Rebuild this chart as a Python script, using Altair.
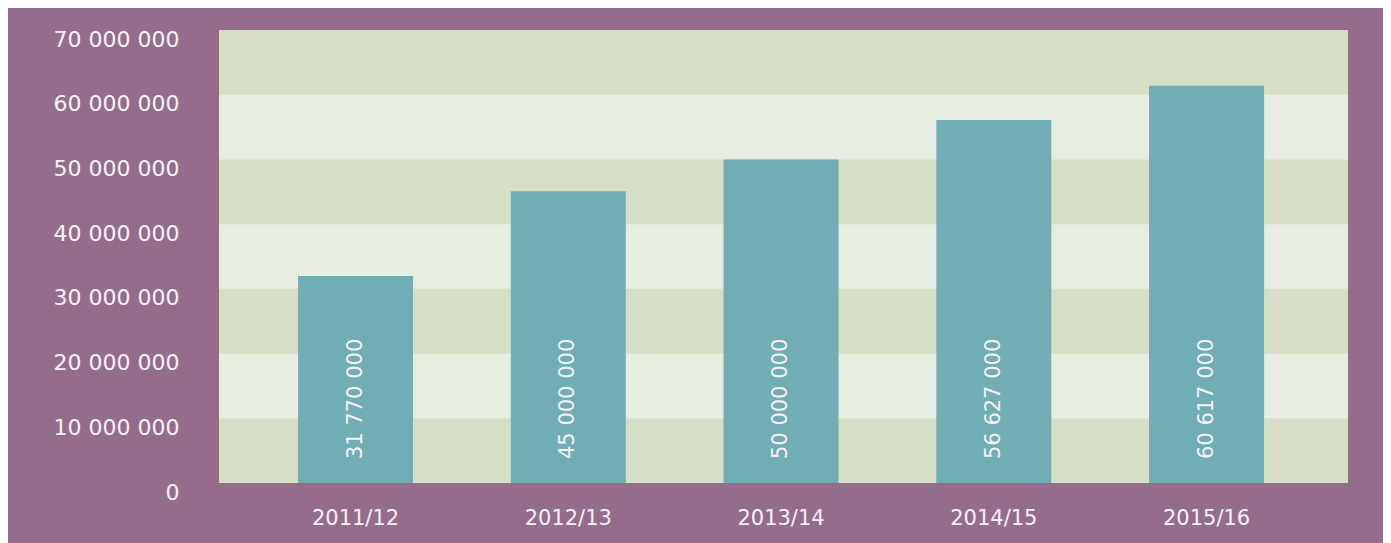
import altair as alt
import pandas as pd

years = ["2011/12", "2012/13", "2013/14", "2014/15", "2015/16"]
# bar heights as drawn in the picture
heights = [32000000, 45100000, 50000000, 56100000, 61400000]
# figures printed inside the bars
labels = ["31 770 000", "45 000 000", "50 000 000", "56 627 000", "60 617 000"]
ticks = [0, 10000000, 20000000, 30000000, 40000000, 50000000, 60000000, 70000000]

bars = pd.DataFrame({"year": years, "value": heights, "label": labels})
bands = pd.DataFrame({
    "lo": ticks[:-1],
    "hi": ticks[1:],
    "shade": ["dark" if i % 2 == 0 else "light" for i in range(len(ticks) - 1)],
})

FONT = "DejaVu Sans"
WEIGHT = 400
TXT = "#f7f2f6"
DARK = "#d6dfc6"
LIGHT = "#e7ede0"
yscale = alt.Scale(domain=[0, 70000000], nice=False, zero=True)
xscale = alt.Scale(paddingInner=0.4595, paddingOuter=0.383, align=0.485)

band_layer = alt.Chart(bands).transform_filter(
    alt.datum.shade == "dark"
).mark_rect(color=DARK).encode(
    y=alt.Y("lo:Q", scale=yscale, axis=alt.Axis(
        values=ticks, title=None, domain=False, ticks=False, grid=False,
        labelFont=FONT, labelFontSize=22, labelFontWeight=WEIGHT, labelColor=TXT,
        labelPadding=40, labelOffset=9, labelBaseline="middle",
        labelExpr="replace(replace(format(datum.value, ','), ',', ' '), ',', ' ')",
    )),
    y2="hi:Q",
    x=alt.value(0),
    x2=alt.value("width"),
)

bar_layer = alt.Chart(bars).mark_bar(color="#71adb5").encode(
    x=alt.X("year:N", sort=years, scale=xscale, axis=alt.Axis(
        title=None, domain=False, ticks=False, labelAngle=0, grid=False,
        labelFont=FONT, labelFontSize=21, labelFontWeight=WEIGHT, labelColor=TXT,
        labelPadding=24,
    )),
    y=alt.Y("value:Q", scale=yscale),
)

text_layer = alt.Chart(bars).mark_text(
    angle=270, align="left", baseline="middle", dx=24,
    font=FONT, fontSize=21, fontWeight=WEIGHT, color=TXT,
).encode(
    x=alt.X("year:N", sort=years, scale=xscale),
    y=alt.datum(0),
    text="label:N",
)

chart = alt.layer(band_layer, bar_layer, text_layer).properties(
    width=1129, height=453,
    autosize=alt.AutoSizeParams(type="none"),
    padding={"left": 211, "top": 22, "right": 35, "bottom": 60},
    background="#956d8a",
).configure_view(stroke=None, fill=LIGHT).configure_axis(grid=False)

chart.save("out.html", embed_options={"renderer": "svg", "actions": False})
